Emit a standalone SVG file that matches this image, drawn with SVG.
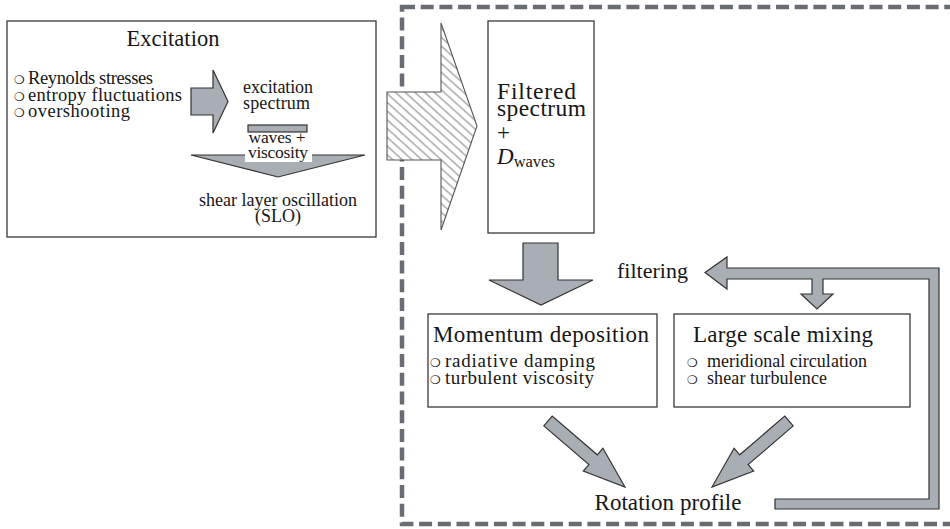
<svg xmlns="http://www.w3.org/2000/svg" width="950" height="529" viewBox="0 0 950 529">
<defs>
<pattern id="hatch" patternUnits="userSpaceOnUse" width="6.5" height="10" patternTransform="rotate(-48)">
<rect width="6.5" height="10" fill="#fff"/>
<line x1="1" y1="-1" x2="1" y2="11" stroke="#6a6a6a" stroke-width="0.9"/>
</pattern>
</defs>
<style>
text{font-family:'Liberation Serif','DejaVu Serif',serif;fill:#161616}
.m{text-anchor:middle}
text.b{font-family:'DejaVu Sans',sans-serif;font-size:12px}
.box{fill:#fff;stroke:#3a3a3a;stroke-width:1.3}
.ar{fill:#a9aeb4;stroke:#333;stroke-width:1.2;stroke-linejoin:miter}
</style>
<rect width="950" height="529" fill="#fff"/>

<rect x="402" y="7" width="570" height="517" fill="none" stroke="#696d71" stroke-width="4.5" stroke-dasharray="13 5.7"/>

<g id="excitation">
<rect class="box" x="7" y="21" width="369" height="216"/>
<text class="m" x="173" y="46" font-size="22.5" textLength="93">Excitation</text>
<text class="b" x="14" y="84">❍</text>
<text class="b" x="14" y="101">❍</text>
<text class="b" x="14" y="117">❍</text>
<text x="28" y="84" font-size="18.5" textLength="125">Reynolds stresses</text>
<text x="28" y="101" font-size="18.5" textLength="154">entropy fluctuations</text>
<text x="28" y="117" font-size="18.5" textLength="102">overshooting</text>
<polygon class="ar" points="191,88 213,88 213,70 228,101.5 213,133 213,115 191,115"/>
<text x="243" y="93" font-size="18" textLength="70">excitation</text>
<text x="243" y="109" font-size="18" textLength="67">spectrum</text>
<rect class="ar" x="248" y="125" width="59" height="7"/>
<text class="m" x="277" y="143" font-size="17.5" textLength="57">waves +</text>
<polygon class="ar" points="191,155 365,155 278,177"/>
<rect x="245" y="147" width="67" height="15" fill="#fff"/>
<text class="m" x="278" y="158" font-size="17.5" textLength="60">viscosity</text>
<text class="m" x="278" y="206" font-size="18" textLength="158">shear layer oscillation</text>
<text class="m" x="278" y="222" font-size="18">(SLO)</text>
</g>

<g id="filtered">
<rect class="box" x="488" y="21" width="106" height="212"/>
<text x="497" y="99" font-size="23.5" textLength="79">Filtered</text>
<text x="497" y="116" font-size="23.5" textLength="89">spectrum</text>
<text x="497" y="140" font-size="23">+</text>
<text x="497" y="164" font-size="23"><tspan font-style="italic">D</tspan><tspan font-size="16.5" dy="3">waves</tspan></text>
</g>

<g id="momentum">
<rect class="box" x="428" y="314" width="229" height="93"/>
<text class="m" x="541" y="342" font-size="23" textLength="216">Momentum deposition</text>
<text class="b" x="430" y="367">❍</text>
<text class="b" x="430" y="384">❍</text>
<text x="445" y="367" font-size="19" textLength="150">radiative damping</text>
<text x="445" y="384" font-size="19" textLength="149">turbulent viscosity</text>
</g>

<g id="mixing">
<rect class="box" x="674" y="314" width="236" height="93"/>
<text class="m" x="783" y="342" font-size="23" textLength="180">Large scale mixing</text>
<text class="b" x="687" y="367">❍</text>
<text class="b" x="687" y="384">❍</text>
<text x="707" y="367" font-size="18" textLength="160">meridional circulation</text>
<text x="707" y="384" font-size="18" textLength="120">shear turbulence</text>
</g>

<g id="filtering">
<text x="617" y="278" font-size="22" textLength="71">filtering</text>
</g>

<g id="rotation">
<text class="m" x="668" y="510" font-size="23" textLength="147">Rotation profile</text>
</g>

<g id="connectors">
<polygon points="387,92 441,92 441,23 477,126 441,230 441,160 387,160" fill="url(#hatch)" stroke="#555" stroke-width="1.1"/>
<polygon class="ar" points="523,243 558,243 558,280 593,280 541,305 489,280 523,280"/>
<polygon class="ar" points="775,499 929,499 929,279 823,279 823,294 833,294 817,309 801,294 812,294 812,279 727,279 727,289 705,272.5 727,257 727,268 939,268 939,509 775,509"/>
<polygon class="ar" points="543.8,425.9 588.9,464.6 583.3,471.1 625,487 602.9,448.3 597.3,454.8 552.2,416.1"/>
<polygon class="ar" points="793.2,425.9 748.1,464.6 753.7,471.1 712,487 734.1,448.3 739.7,454.8 784.8,416.1"/>
</g>
</svg>
